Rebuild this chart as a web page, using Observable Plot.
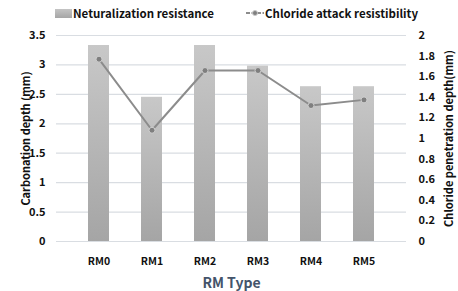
<!DOCTYPE html>
<html>
<head>
<meta charset="utf-8">
<script src="https://cdn.jsdelivr.net/npm/d3@7"></script>
<script src="https://cdn.jsdelivr.net/npm/@observablehq/plot@0.6"></script>
<style>
  body { margin: 0; background: #fff; font-family: "Noto Sans CJK KR", "Noto Sans", sans-serif; }
  #legend { position: relative; height: 25px; width: 458px; font-weight: bold; font-size: 11.5px; color: #111; }
  .item { position: absolute; top: 5px; display: flex; align-items: center; height: 16px; }
  .sw { width: 17px; height: 9px; background: linear-gradient(#c4c4c4, #a6a6a6); margin-right: 1px; }
</style>
</head>
<body>
<div id="legend">
  <div class="item" style="left:55px"><span class="sw"></span>Neturalization resistance</div>
  <div class="item" style="left:246px"><svg width="18" height="10" style="margin-right:1px"><line x1="0" y1="5" x2="18" y2="5" stroke="#8c8c8c" stroke-width="2" stroke-dasharray="4 1.5"/><circle cx="9" cy="5" r="2.5" fill="#7f7f7f" stroke="#c8c8c8" stroke-width="1"/></svg>Chloride attack resistibility</div>
</div>
<div id="chart"></div>
<script>
const categories = ["RM0", "RM1", "RM2", "RM3", "RM4", "RM5"];
const carbonation = [3.33, 2.45, 3.33, 2.98, 2.63, 2.63];
const chloride = [1.77, 1.08, 1.66, 1.66, 1.32, 1.375];
const leftTicks = [0, 0.5, 1, 1.5, 2, 2.5, 3, 3.5];
const rightTicks = [0, 0.2, 0.4, 0.6, 0.8, 1, 1.2, 1.4, 1.6, 1.8, 2];
const leftMax = 3.5, rightMax = 2;
const k = leftMax / rightMax;

const bars = categories.map((c, i) => ({cat: c, v: carbonation[i]}));
const pts = categories.map((c, i) => ({cat: c, v: chloride[i], y: chloride[i] * k}));

const font = "Noto Sans CJK KR";
const plot = Plot.plot({
  width: 458,
  height: 266,
  marginTop: 10,
  marginBottom: 50,
  marginLeft: 56,
  marginRight: 52,
  style: {fontFamily: font, fontWeight: "bold", fontSize: "11px", color: "#111", background: "#fff"},
  x: {domain: categories, padding: 0.6},
  y: {domain: [0, leftMax]},
  marks: [
    Plot.gridY(leftTicks, {stroke: "#d9dde2", strokeOpacity: 1, strokeWidth: 1.2}),
    Plot.barY(bars, {x: "cat", y: "v", fill: "url(#barGrad)"}),
    Plot.line(pts, {x: "cat", y: "y", stroke: "#8c8c8c", strokeWidth: 2}),
    Plot.dot(pts, {x: "cat", y: "y", r: 3, fill: "#7f7f7f", stroke: "#cfcfcf", strokeWidth: 1}),
    Plot.axisX({tickSize: 0, tickPadding: 16, label: null, fontSize: 10.5}),
    Plot.axisY(leftTicks, {anchor: "left", tickSize: 0, tickPadding: 11, tickFormat: d => String(d),
      label: "Carbonation depth (mm)", labelAnchor: "center", labelArrow: "none", labelOffset: 34, fontSize: 11}),
    Plot.axisY(rightTicks.map(t => t * k), {anchor: "right", tickSize: 0, tickPadding: 12,
      tickFormat: d => String(+(d / k).toFixed(1)),
      label: "Chloride penetration depth(mm)", labelAnchor: "center", labelArrow: "none", labelOffset: 46, fontSize: 11}),
    Plot.text(["RM Type"], {frameAnchor: "bottom", dy: 46, fill: "#44546a", fontSize: 14, fontWeight: "bold"})
  ]
});
const svg = d3.select(plot);
const defs = svg.insert("defs", ":first-child");
const g = defs.append("linearGradient").attr("id", "barGrad").attr("x1", 0).attr("y1", 0).attr("x2", 0).attr("y2", 1);
g.append("stop").attr("offset", "0%").attr("stop-color", "#c8c8c8");
g.append("stop").attr("offset", "100%").attr("stop-color", "#a5a5a5");
document.getElementById("chart").appendChild(plot);
</script>
</body>
</html>
